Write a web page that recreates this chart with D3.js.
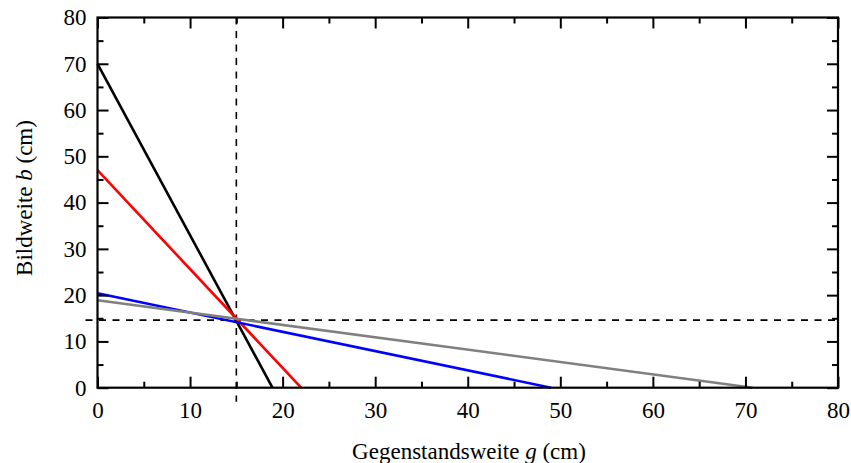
<!DOCTYPE html>
<html>
<head>
<meta charset="utf-8">
<script src="https://cdn.jsdelivr.net/npm/d3@7"></script>
<style>
  body { margin: 0; background: #fff; }
  text { font-family: "Liberation Serif", "DejaVu Serif", serif; fill: #000; }
</style>
</head>
<body>
<svg id="chart" width="851" height="463"></svg>
<script>
// each line joins the object distance g on the x axis with the image distance b on the y axis
const lineNames = ["schwarz", "rot", "blau", "grau"];
const lineColors = ["#000000", "#ff0000", "#0000ff", "#808080"];
const gValues = [18.9, 22.0, 49.0, 70.8];
const bValues = [70.0, 47.0, 20.4, 18.9];
const focusG = 15.0;
const focusB = 14.6;
const xTicks = [0, 10, 20, 30, 40, 50, 60, 70, 80];
const yTicks = [0, 10, 20, 30, 40, 50, 60, 70, 80];
const minorTicks = [5, 15, 25, 35, 45, 55, 65, 75];

const svg = d3.select("#chart");
const mLeft = 97.5, mRight = 838, mTop = 17.5, mBottom = 387.7;

const x = d3.scaleLinear().domain([0, 80]).range([mLeft, mRight]);
const y = d3.scaleLinear().domain([0, 80]).range([mBottom, mTop]);

const plot = svg.append("g");

// dashed guide lines through the focal point
plot.append("line")
    .attr("x1", x(focusG)).attr("x2", x(focusG))
    .attr("y1", y(80)).attr("y2", mBottom + 14)
    .attr("stroke", "black").attr("stroke-width", 1.6)
    .attr("stroke-dasharray", "7,6.5");
plot.append("line")
    .attr("x1", mLeft - 12).attr("x2", x(80))
    .attr("y1", y(focusB)).attr("y2", y(focusB))
    .attr("stroke", "black").attr("stroke-width", 1.6)
    .attr("stroke-dasharray", "7,6.5");

// the measured lines
lineNames.forEach((name, i) => {
    plot.append("line")
        .attr("class", "line-" + name)
        .attr("x1", x(0)).attr("y1", y(bValues[i]))
        .attr("x2", x(gValues[i])).attr("y2", y(0))
        .attr("stroke", lineColors[i])
        .attr("stroke-width", 2.6);
});

// axes with inward ticks on all four sides
const major = 11, minor = 6;
const fmt = d3.format("d");

svg.append("g").attr("transform", `translate(0,${mBottom})`)
    .call(d3.axisBottom(x).tickValues(xTicks).tickSize(-major).tickPadding(14).tickFormat(fmt));
svg.append("g").attr("transform", `translate(0,${mBottom})`)
    .call(d3.axisBottom(x).tickValues(minorTicks).tickSize(-minor).tickFormat(""));
svg.append("g").attr("transform", `translate(0,${mTop})`)
    .call(d3.axisTop(x).tickValues(xTicks).tickSize(-major).tickFormat(""));
svg.append("g").attr("transform", `translate(0,${mTop})`)
    .call(d3.axisTop(x).tickValues(minorTicks).tickSize(-minor).tickFormat(""));

svg.append("g").attr("transform", `translate(${mLeft},0)`)
    .call(d3.axisLeft(y).tickValues(yTicks).tickSize(-major).tickPadding(11).tickFormat(fmt));
svg.append("g").attr("transform", `translate(${mLeft},0)`)
    .call(d3.axisLeft(y).tickValues(minorTicks).tickSize(-minor).tickFormat(""));
svg.append("g").attr("transform", `translate(${mRight},0)`)
    .call(d3.axisRight(y).tickValues(yTicks).tickSize(-major).tickFormat(""));
svg.append("g").attr("transform", `translate(${mRight},0)`)
    .call(d3.axisRight(y).tickValues(minorTicks).tickSize(-minor).tickFormat(""));

svg.selectAll(".domain").remove();
svg.selectAll(".tick line").attr("stroke", "black").attr("stroke-width", 2);
svg.selectAll(".tick text").style("font-family", "'Liberation Serif', serif").style("font-size", "23px").attr("fill", "black");

// frame
svg.append("rect")
    .attr("x", mLeft).attr("y", mTop)
    .attr("width", mRight - mLeft).attr("height", mBottom - mTop)
    .attr("fill", "none").attr("stroke", "black").attr("stroke-width", 2.2);

// axis titles
const xTitle = svg.append("text")
    .attr("x", 469).attr("y", 459)
    .attr("text-anchor", "middle").style("font-size", "23px");
xTitle.append("tspan").text("Gegenstandsweite ");
xTitle.append("tspan").style("font-style", "italic").text("g");
xTitle.append("tspan").text(" (cm)");

const yTitle = svg.append("text")
    .attr("transform", "translate(32,198) rotate(-90)")
    .attr("text-anchor", "middle").style("font-size", "23px");
yTitle.append("tspan").text("Bildweite ");
yTitle.append("tspan").style("font-style", "italic").text("b");
yTitle.append("tspan").text(" (cm)");
</script>
</body>
</html>
